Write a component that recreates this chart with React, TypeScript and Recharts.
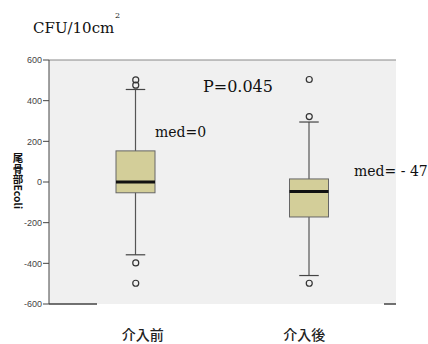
import { ComposedChart, Bar, Scatter, XAxis, YAxis, CartesianGrid, ReferenceLine } from 'recharts';

const categories = ['介入前', '介入後'];
const whiskerLow = [-358, -460];
const q1 = [-53, -172];
const median = [0, -47];
const q3 = [153, 15];
const whiskerHigh = [455, 295];
const outliersPre = [502, 476, -398, -498];
const outliersPost = [504, 322, -498];
const yTicks = [-600, -400, -200, 0, 200, 400, 600];

const boxData = categories.map((name, i) => ({
  name,
  range: [whiskerLow[i], whiskerHigh[i]],
  q1: q1[i],
  median: median[i],
  q3: q3[i],
}));

const outlierData = [
  ...outliersPre.map((v) => ({ name: categories[0], v })),
  ...outliersPost.map((v) => ({ name: categories[1], v })),
];

const serif = '"DejaVu Serif", serif';
const sans = '"Liberation Sans", Arial, sans-serif';
const cjk = '"Noto Sans CJK JP", sans-serif';

// box + whiskers drawn inside the range bar (lo..hi) the library already scaled
const BoxShape = (props: any) => {
  const { x, y, width, height, payload } = props;
  const [lo, hi] = payload.range;
  const top = Math.min(y, y + height);
  const bottom = Math.max(y, y + height);
  const toPx = (v: number) => bottom - ((v - lo) / (hi - lo)) * (bottom - top);
  const cx = x + width / 2;
  const cap = width / 4;
  const yq3 = toPx(payload.q3);
  const yq1 = toPx(payload.q1);
  const ymed = toPx(payload.median);
  return (
    <g>
      <line x1={cx} x2={cx} y1={top} y2={bottom} stroke="#555" strokeWidth={1.2} />
      <line x1={cx - cap} x2={cx + cap} y1={top} y2={top} stroke="#444" strokeWidth={1.2} />
      <line x1={cx - cap} x2={cx + cap} y1={bottom} y2={bottom} stroke="#444" strokeWidth={1.2} />
      <rect x={x} y={yq3} width={width} height={yq1 - yq3} fill="#d3ce99" stroke="#666" strokeWidth={1} />
      <line x1={x} x2={x + width} y1={ymed} y2={ymed} stroke="#111" strokeWidth={3} />
    </g>
  );
};

const OutlierDot = (props: any) => (
  <circle cx={props.cx} cy={props.cy} r={3} fill="none" stroke="#333" strokeWidth={1.2} />
);

const labelShift = [7, -5];

const CatTick = (props: any) => {
  const { x, y, payload, index } = props;
  return (
    <text
      x={x + (labelShift[index] ?? 0)}
      y={y + 36}
      textAnchor="middle"
      fontSize={14}
      fontWeight={500}
      fill="#222"
      fontFamily={cjk}
    >
      {payload.value}
    </text>
  );
};

const App = () => {
  return (
    <div style={{ position: 'absolute', left: 0, top: 0, width: 428, height: 344, background: '#fff' }}>
      <ComposedChart
        width={428}
        height={344}
        data={boxData}
        margin={{ top: 60, right: 32, left: 0, bottom: 0 }}
      >
        <CartesianGrid fill="#f0f0f0" horizontal={false} vertical={false} />
        <XAxis
          dataKey="name"
          type="category"
          allowDuplicatedCategory={false}
          height={40}
          tickLine={false}
          tickSize={0}
          tickMargin={0}
          axisLine={{ stroke: '#444', strokeWidth: 1.5, strokeDasharray: '48 287 12' }}
          tick={<CatTick />}
        />
        <YAxis
          yAxisId="left"
          width={49}
          domain={[-600, 600]}
          ticks={yTicks}
          interval={0}
          tickSize={6}
          tickMargin={1}
          axisLine={{ stroke: '#444' }}
          tickLine={{ stroke: '#444' }}
          tick={{ fontSize: 9, fill: '#444', fontFamily: sans }}
        />
        <YAxis
          yAxisId="right"
          orientation="right"
          width={0}
          domain={[-600, 600]}
          tick={false}
          tickLine={false}
          axisLine={{ stroke: '#555', strokeWidth: 2 }}
        />
        <ReferenceLine yAxisId="left" y={600} stroke="#888" strokeWidth={1} />
        <Bar
          yAxisId="left"
          dataKey="range"
          barSize={39}
          shape={<BoxShape />}
          isAnimationActive={false}
        />
        <Scatter
          yAxisId="left"
          data={outlierData}
          dataKey="v"
          shape={<OutlierDot />}
          isAnimationActive={false}
        />
      </ComposedChart>
      <svg
        width={428}
        height={344}
        style={{ position: 'absolute', left: 0, top: 0, pointerEvents: 'none' }}
      >
        <text x={33} y={33} fontFamily={serif} fontSize={15} fill="#111">CFU/10cm</text>
        <text x={115} y={18} fontFamily={serif} fontSize={8} fill="#111">2</text>
        <text x={203} y={91.5} fontFamily={serif} fontSize={16} fill="#111">P=0.045</text>
        <text x={155} y={136.5} fontFamily={serif} fontSize={14} fill="#111">med=0</text>
        <text x={354} y={176} fontFamily={serif} fontSize={14} fill="#111" xmlSpace="preserve">med= - 47</text>
        <text
          x={18}
          y={153}
          fontFamily={cjk}
          fontSize={10.5}
          fontWeight={700}
          fill="#111"
          style={{ writingMode: 'vertical-rl', textOrientation: 'mixed' } as any}
        >
          尾骨部Ecoli
        </text>
      </svg>
    </div>
  );
};

export default App;
